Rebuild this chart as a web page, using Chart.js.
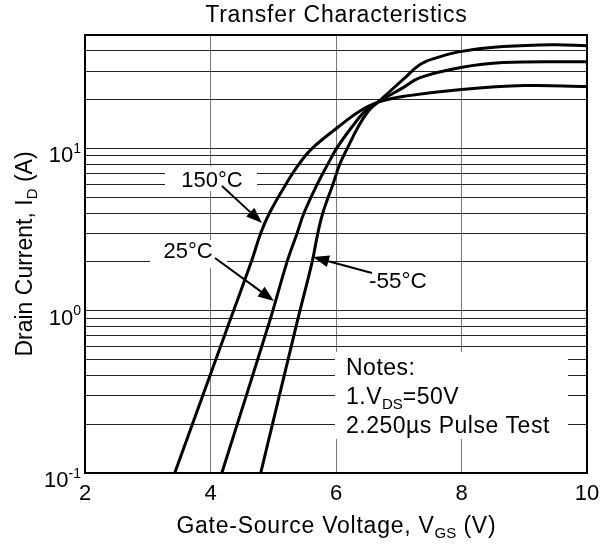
<!DOCTYPE html>
<html>
<head>
<meta charset="utf-8">
<script src="https://cdn.jsdelivr.net/npm/chart.js@4.4.0/dist/chart.umd.min.js"></script>
<style>
html,body{margin:0;padding:0;background:#fff;}
canvas{display:block;}
</style>
</head>
<body>
<canvas id="c" width="600" height="545"></canvas>
<script>
// ---- data ----
const chartTitle = 'Transfer Characteristics';
const xTicks = [2, 4, 6, 8, 10];
const yGrid = [0.1,0.2,0.3,0.4,0.5,0.6,0.7,0.8,0.9,1,2,3,4,5,6,7,8,9,10,20,30,40,50];
const yLabelValues = [0.1, 1, 10];
const yLabelExps = ['-1', '0', '1'];
const seriesNames = ['150°C', '25°C', '-55°C'];

const vgs150 = [3.43, 4.31, 4.65, 4.80, 4.94, 5.20, 5.41, 5.62, 6.03, 6.37, 6.67, 7.10, 8.00, 9.00, 10.0];
const id150  = [0.1, 0.87, 2.0, 3.0, 4.0, 6.0, 8.0, 10.0, 13.5, 16.9, 19.3, 21.0, 23.1, 24.4, 24.1];

const vgs25 = [4.18, 4.95, 5.22, 5.38, 5.49, 5.70, 5.87, 6.01, 6.25, 6.46, 6.67, 7.07, 7.34, 7.99, 8.66, 10.0];
const id25  = [0.1, 0.88, 2.0, 3.0, 4.0, 6.0, 8.0, 10.0, 13.5, 16.9, 19.3, 23.7, 27.3, 31.5, 33.8, 34.2];

const vgsM55 = [4.80, 5.39, 5.62, 5.71, 5.79, 5.95, 6.06, 6.18, 6.35, 6.51, 6.67, 7.07, 7.34, 7.61, 7.98, 8.66, 9.46, 10.0];
const idM55  = [0.1, 0.88, 2.0, 3.0, 4.0, 6.0, 8.0, 10.0, 13.5, 16.9, 19.3, 26.6, 32.9, 36.3, 39.5, 42.4, 43.6, 43.0];

const notesLines = [
  [['Notes:',0]],
  [['1.V',0],['DS',1],['=50V',0]],
  [['2.250µs Pulse Test',0]]
];
const xTitleParts = [['Gate-Source Voltage, V',0],['GS',1],[' (V)',0]];
const yTitleParts = [['Drain Current, I',0],['D',1],[' (A)',0]];

// ---- helpers ----
const FONT = '"Liberation Sans", Arial, Helvetica, sans-serif';
const toPts = (xs, ys) => xs.map((x, i) => ({x: x, y: ys[i]}));

function drawRich(ctx, parts, x, y, align, size, spacing) {
  const spc = spacing || 0;
  const fs = [size, Math.round(size * 0.64), Math.round(size * 0.64)];
  const dy = [0, size * 0.2, -size * 0.42];
  let w = 0;
  parts.forEach(([t, m]) => {
    ctx.font = fs[m] + 'px ' + FONT;
    ctx.letterSpacing = (m === 0 ? spc : 0) + 'px';
    w += ctx.measureText(t).width;
  });
  w -= spc;
  let cx = align === 'center' ? x - w / 2 : (align === 'right' ? x - w : x);
  ctx.textAlign = 'left';
  ctx.textBaseline = 'alphabetic';
  parts.forEach(([t, m]) => {
    ctx.font = fs[m] + 'px ' + FONT;
    ctx.letterSpacing = (m === 0 ? spc : 0) + 'px';
    ctx.fillText(t, cx, y + dy[m]);
    cx += ctx.measureText(t).width;
  });
  ctx.letterSpacing = '0px';
}

function arrow(ctx, x1, y1, x2, y2) {
  const a = Math.atan2(y2 - y1, x2 - x1), L = 16, W = 6;
  const bx = x2 - L * Math.cos(a), by = y2 - L * Math.sin(a);
  ctx.lineWidth = 2;
  ctx.beginPath(); ctx.moveTo(x1, y1); ctx.lineTo(bx, by); ctx.stroke();
  ctx.beginPath();
  ctx.moveTo(x2, y2);
  ctx.lineTo(bx - W * Math.sin(a), by + W * Math.cos(a));
  ctx.lineTo(bx + W * Math.sin(a), by - W * Math.cos(a));
  ctx.closePath(); ctx.fill();
}

const deco = {
  id: 'deco',
  beforeDatasetsDraw(chart) {
    const ctx = chart.ctx;
    ctx.save();
    ctx.fillStyle = '#fff';
    ctx.fillRect(165, 166, 92, 25);   // 150°C label
    ctx.fillRect(150, 240, 77, 28);   // 25°C label
    ctx.fillRect(335, 352, 233, 87);  // notes
    ctx.restore();
  },
  afterDatasetsDraw(chart) {
    const ctx = chart.ctx, a = chart.chartArea;
    const xs = chart.scales.x, ys = chart.scales.y;
    ctx.save();
    ctx.strokeStyle = '#000';
    ctx.fillStyle = '#000';
    ctx.lineWidth = 2;
    ctx.strokeRect(a.left, a.top, a.right - a.left, a.bottom - a.top);

    // title
    drawRich(ctx, [[chartTitle, 0]], (a.left + a.right) / 2, 22, 'center', 23, 0.8);

    // tick labels
    xTicks.forEach(v => drawRich(ctx, [[String(v), 0]], xs.getPixelForValue(v), 500, 'center', 22));
    yLabelValues.forEach((v, i) => {
      drawRich(ctx, [['10', 0], [yLabelExps[i], 2]], 81, ys.getPixelForValue(v) + 14, 'right', 22);
    });

    // axis titles
    drawRich(ctx, xTitleParts, (a.left + a.right) / 2, 533, 'center', 23, 0.75);
    ctx.save();
    ctx.translate(32, 254);
    ctx.rotate(-Math.PI / 2);
    drawRich(ctx, yTitleParts, 0, 0, 'center', 23);
    ctx.restore();

    // curve labels + arrows
    drawRich(ctx, [[seriesNames[0], 0]], 212, 187, 'center', 22);
    drawRich(ctx, [[seriesNames[1], 0]], 188, 258, 'center', 22);
    drawRich(ctx, [[seriesNames[2], 0]], 369, 288, 'left', 22.5);
    arrow(ctx, 222, 186, 262, 223);
    arrow(ctx, 215, 258, 274, 301);
    arrow(ctx, 372, 273, 313, 257);

    // notes
    notesLines.forEach((ln, i) => drawRich(ctx, ln, 346, 375 + i * 29, 'left', 23, 0.5));
    ctx.restore();
  }
};

const lineStyle = {borderColor: '#000', borderWidth: 3, pointRadius: 0, fill: false, tension: 0.4};

new Chart(document.getElementById('c'), {
  type: 'line',
  data: {
    datasets: [
      Object.assign({label: seriesNames[0], data: toPts(vgs150, id150)}, lineStyle),
      Object.assign({label: seriesNames[1], data: toPts(vgs25, id25)}, lineStyle),
      Object.assign({label: seriesNames[2], data: toPts(vgsM55, idM55)}, lineStyle)
    ]
  },
  options: {
    responsive: false,
    animation: false,
    devicePixelRatio: 1,
    layout: {padding: {left: 85, right: 13, top: 35, bottom: 72}},
    plugins: {legend: {display: false}, tooltip: {enabled: false}, title: {display: false}},
    scales: {
      x: {
        type: 'linear', min: 2, max: 10,
        afterBuildTicks: s => { s.ticks = xTicks.map(v => ({value: v})); },
        ticks: {display: false},
        grid: {color: '#777', lineWidth: 1, drawTicks: false},
        border: {display: false}
      },
      y: {
        type: 'logarithmic', min: 0.1, max: 50,
        afterBuildTicks: s => { s.ticks = yGrid.map(v => ({value: v})); },
        ticks: {display: false},
        grid: {color: '#222', lineWidth: 1, drawTicks: false},
        border: {display: false}
      }
    }
  },
  plugins: [deco]
});
</script>
</body>
</html>
